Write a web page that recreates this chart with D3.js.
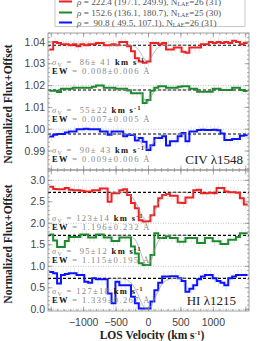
<!DOCTYPE html>
<html>
<head>
<meta charset="utf-8">
<script src="https://cdn.jsdelivr.net/npm/d3@7"></script>
<style>
  body { margin: 0; background: #fff; }
  text { white-space: pre; }
</style>
</head>
<body>
<svg id="chart" width="264" height="341" xml:space="preserve"></svg>
<script>
// velocity bins (centres, km/s)
var vel = d3.range(-1500, 1501, 60);
var binWidth = 60;

// CIV 1548 stack, flux + offset
var civRed = [1.0365,1.0400,1.0395,1.0390,1.0390,1.0385,1.0390,1.0380,1.0390,1.0385,1.0390,1.0390,1.0395,1.0395,1.0385,1.0385,1.0390,1.0385,1.0400,1.0400,1.0380,1.0357,1.0325,1.0310,1.0305,1.0310,1.0395,1.0395,1.0390,1.0395,1.0365,1.0365,1.0375,1.0375,1.0355,1.0350,1.0375,1.0375,1.0375,1.0390,1.0390,1.0400,1.0395,1.0400,1.0395,1.0400,1.0395,1.0405,1.0400,1.0390,1.0395];
var civGreen = [1.0176,1.0176,1.0170,1.0185,1.0185,1.0185,1.0190,1.0190,1.0190,1.0190,1.0190,1.0195,1.0200,1.0200,1.0190,1.0190,1.0190,1.0185,1.0185,1.0185,1.0177,1.0165,1.0165,1.0165,1.0120,1.0134,1.0176,1.0190,1.0197,1.0197,1.0190,1.0190,1.0190,1.0195,1.0197,1.0197,1.0185,1.0185,1.0172,1.0172,1.0172,1.0172,1.0185,1.0185,1.0180,1.0180,1.0180,1.0190,1.0190,1.0180,1.0175];
var civBlue = [0.9966,0.9975,0.9978,0.9978,0.9985,0.9990,0.9990,1.0000,1.0000,1.0002,1.0000,1.0000,1.0000,0.9990,0.9990,0.9975,0.9990,0.9990,0.9990,0.9968,0.9975,0.9974,0.9948,0.9960,0.9942,0.9905,0.9927,0.9960,0.9960,0.9968,0.9925,0.9945,0.9945,0.9968,0.9983,0.9945,0.9990,0.9990,0.9996,0.9998,0.9996,0.9996,0.9998,0.9995,0.9980,0.9950,0.9950,0.9955,0.9955,0.9970,0.9972];

// HI 1215 stack, flux + offset
var hiRed = [2.85,2.80,2.79,2.79,2.82,2.78,2.77,2.77,2.76,2.74,2.74,2.77,2.77,2.81,2.81,2.50,2.70,2.70,2.77,2.79,2.66,2.47,2.35,2.07,2.04,2.05,2.19,2.39,2.58,2.66,2.68,2.64,2.64,2.48,2.47,2.60,2.60,2.77,2.78,2.70,2.70,2.71,2.70,2.82,2.82,2.74,2.72,2.72,2.71,2.58,2.44];
var hiGreen = [1.74,1.60,1.45,1.45,1.59,1.68,1.68,1.68,1.74,1.74,1.67,1.67,1.74,1.74,1.67,1.67,1.59,1.59,1.67,1.67,1.67,1.46,1.30,1.07,1.03,1.03,1.26,1.77,1.66,1.66,1.70,1.66,1.66,1.57,1.57,1.66,1.66,1.66,1.54,1.54,1.66,1.66,1.58,1.58,1.52,1.52,1.62,1.62,1.68,1.77,1.77];
var hiBlue = [0.87,0.84,0.60,0.80,0.82,0.84,0.84,0.80,0.80,0.64,0.62,0.72,0.70,0.70,0.70,0.37,0.14,0.64,0.56,0.56,0.56,0.29,0.14,0.02,0.02,0.02,0.18,0.44,0.62,0.76,0.76,0.77,0.77,0.72,0.66,0.41,0.48,0.56,0.70,0.76,0.80,0.80,0.72,0.66,0.62,0.56,0.72,0.76,0.80,0.80,0.80];

var civErr = [0.0022, 0.0020, 0.0022];
var hiErr = [0.12, 0.11, 0.13];

// continuum levels (dashed) and offset zero lines (dotted)
var civCont = [1.0385, 1.0180, 0.9978];
var hiCont = [2.72, 1.72, 0.72];
var civRef = [1.04, 1.02, 1.00];
var hiRef = [3, 2, 1, 0];

// gaussian fit parameters
var civSigma = [86, 55, 90];
var civDepth = [0.0072, 0.0058, 0.0068];
var hiSigma = [123, 95, 127];
var hiDepth = [0.66, 0.70, 0.72];
var fitCentre = -20;

// labels
var civSigmaTxt = [" 86\u00b1 41", " 55\u00b122", " 90\u00b1 43"];
var civEWTxt = ["0.008\u00b10.006", "0.007\u00b10.005", "0.009\u00b10.006"];
var hiSigmaTxt = ["123\u00b114", " 95\u00b112", "127\u00b118"];
var hiEWTxt = ["1.196\u00b10.232", "1.115\u00b10.195", "1.339\u00b10.267"];
var legendRho = ["222.4 (197.1, 249.9)", "152.6 (136.1, 180.7)", " 90.8 ( 49.5, 107.1)"];
var legendN = ["26 (31)", "25 (30)", "26 (31)"];
var colors = ["#ee2222", "#1e8a2e", "#0a14ff"];

var serif = "Liberation Serif, Times New Roman, serif";
var sans = "Liberation Sans, Arial, sans-serif";

var svg = d3.select("#chart");
var left = 48, right = 249;

var x = d3.scaleLinear().domain([-1550, 1550]).range([left, right]);

var panels = [
  { top: 33, bottom: 170, domain: [0.9813, 1.0441], series: [civRed, civGreen, civBlue],
    err: civErr, cont: civCont, ref: civRef, sig: civSigma, depth: civDepth,
    major: d3.range(0.99, 1.0405, 0.01), minor: d3.range(0.982, 1.0441, 0.002), fmt: d3.format(".2f"),
    sigTxt: civSigmaTxt, ewTxt: civEWTxt, txtY: [65, 113, 153], ion: "CIV \u03bb1548", ionX: 243, ionY: 164,
    titleY: 104 },
  { top: 170, bottom: 311, domain: [-0.04, 3.24], series: [hiRed, hiGreen, hiBlue],
    err: hiErr, cont: hiCont, ref: hiRef, sig: hiSigma, depth: hiDepth,
    major: d3.range(0, 3.01, 0.5), minor: d3.range(0, 3.21, 0.1), fmt: d3.format(".1f"),
    sigTxt: hiSigmaTxt, ewTxt: hiEWTxt, txtY: [221, 254, 294], ion: "HI \u03bb1215", ionX: 236, ionY: 305,
    titleY: 244 }
];

panels.forEach(function(p, pi) {
  var y = d3.scaleLinear().domain(p.domain).range([p.bottom, p.top]);
  var g = svg.append("g");
  var clipId = "clip" + pi;
  svg.append("clipPath").attr("id", clipId).append("rect")
    .attr("x", left).attr("y", p.top).attr("width", right - left).attr("height", p.bottom - p.top);
  var inner = g.append("g").attr("clip-path", "url(#" + clipId + ")");

  // dotted offset reference lines
  inner.selectAll(".ref").data(p.ref).enter().append("line")
    .attr("x1", left).attr("x2", right)
    .attr("y1", function(d) { return y(d); }).attr("y2", function(d) { return y(d); })
    .attr("stroke", "#aaa").attr("stroke-width", 0.7).attr("stroke-dasharray", "1,1.5");

  // error bars
  p.series.forEach(function(s, si) {
    inner.selectAll(".err" + si).data(s).enter().append("line")
      .attr("x1", function(d, i) { return x(vel[i]); })
      .attr("x2", function(d, i) { return x(vel[i]); })
      .attr("y1", function(d) { return y(d - p.err[si]); })
      .attr("y2", function(d) { return y(d + p.err[si]); })
      .attr("stroke", "#e2e2e2").attr("stroke-width", 0.8);
  });

  // continuum dashed
  inner.selectAll(".cont").data(p.cont).enter().append("line")
    .attr("x1", left).attr("x2", right)
    .attr("y1", function(d) { return y(d); }).attr("y2", function(d) { return y(d); })
    .attr("stroke", "#000").attr("stroke-width", 1.1).attr("stroke-dasharray", "3,2");

  // spectra as histograms
  var step = d3.line().curve(d3.curveStepAfter)
    .x(function(d) { return x(d[0]); }).y(function(d) { return y(d[1]); });
  p.series.forEach(function(s, si) {
    var pts = s.map(function(d, i) { return [vel[i] - binWidth / 2, d]; });
    pts.push([vel[vel.length - 1] + binWidth / 2, s[s.length - 1]]);
    inner.append("path").attr("d", step(pts))
      .attr("fill", "none").attr("stroke", colors[si]).attr("stroke-width", 2);
  });

  // gaussian fits
  var fit = d3.line().x(function(d) { return x(d[0]); }).y(function(d) { return y(d[1]); });
  p.cont.forEach(function(c, si) {
    var vv = d3.range(-600, 601, 10);
    var pts = vv.map(function(v) {
      var dv = v - fitCentre;
      return [v, c - p.depth[si] * Math.exp(-dv * dv / (2 * p.sig[si] * p.sig[si]))];
    });
    inner.append("path").attr("d", fit(pts))
      .attr("fill", "none").attr("stroke", "#999").attr("stroke-width", 0.7);
  });

  // frame
  g.append("rect").attr("x", left).attr("y", p.top)
    .attr("width", right - left).attr("height", p.bottom - p.top)
    .attr("fill", "none").attr("stroke", "#888").attr("stroke-width", 0.8);

  // y ticks both sides
  var tickG = g.append("g").attr("stroke", "#888").attr("stroke-width", 0.7);
  p.minor.forEach(function(t) {
    tickG.append("line").attr("x1", left).attr("x2", left + 2).attr("y1", y(t)).attr("y2", y(t));
    tickG.append("line").attr("x1", right).attr("x2", right - 2).attr("y1", y(t)).attr("y2", y(t));
  });
  p.major.forEach(function(t) {
    tickG.append("line").attr("x1", left).attr("x2", left + 4.5).attr("y1", y(t)).attr("y2", y(t));
    tickG.append("line").attr("x1", right).attr("x2", right - 4.5).attr("y1", y(t)).attr("y2", y(t));
  });
  g.selectAll(".ylab").data(p.major).enter().append("text")
    .attr("x", left - 3).attr("y", function(d) { return y(d) + 3.6; })
    .attr("text-anchor", "end").attr("font-family", sans)
    .attr("font-size", 10.5).attr("fill", "#444").text(function(d) { return p.fmt(d); });

  // x ticks top and bottom
  var xminor = d3.range(-1500, 1501, 100), xmajor = d3.range(-1500, 1501, 500);
  xminor.forEach(function(t) {
    tickG.append("line").attr("x1", x(t)).attr("x2", x(t)).attr("y1", p.bottom).attr("y2", p.bottom - 2);
    tickG.append("line").attr("x1", x(t)).attr("x2", x(t)).attr("y1", p.top).attr("y2", p.top + 2);
  });
  xmajor.forEach(function(t) {
    tickG.append("line").attr("x1", x(t)).attr("x2", x(t)).attr("y1", p.bottom).attr("y2", p.bottom - 4.5);
    tickG.append("line").attr("x1", x(t)).attr("x2", x(t)).attr("y1", p.top).attr("y2", p.top + 4.5);
  });

  // y title
  g.append("text")
    .attr("transform", "translate(12," + p.titleY + ") rotate(-90)")
    .attr("text-anchor", "middle").attr("font-family", serif)
    .attr("font-weight", "bold").attr("font-size", 11.5).attr("fill", "#222")
    .text("Normalized Flux+Offset");

  // fit annotations
  p.sigTxt.forEach(function(s, si) {
    var t1 = g.append("text").attr("x", 52).attr("y", p.txtY[si])
      .attr("font-family", serif).attr("font-size", 8.5).attr("letter-spacing", 1.35).attr("fill", "#888");
    t1.append("tspan").attr("font-style", "italic").text("\u03c3");
    t1.append("tspan").attr("font-size", 5.8).attr("dy", 1.6).text("V");
    t1.append("tspan").attr("dy", -1.6).text(" = " + s + " ");
    t1.append("tspan").attr("font-weight", "bold").attr("fill", "#111").text("km s");
    t1.append("tspan").attr("font-size", 5.8).attr("dy", -3.3).attr("font-weight", "bold").attr("fill", "#111").text("-1");
    var t2 = g.append("text").attr("x", 52).attr("y", p.txtY[si] + 9)
      .attr("font-family", serif).attr("font-size", 8.5).attr("letter-spacing", 1.35).attr("fill", "#888");
    t2.append("tspan").attr("font-weight", "bold").attr("fill", "#111").text("EW");
    t2.append("tspan").text(" = " + p.ewTxt[si] + " \u00c5");
  });

  g.append("text").attr("x", p.ionX).attr("y", p.ionY).attr("text-anchor", "end")
    .attr("font-family", serif).attr("font-size", 13)
    .attr("fill", "#222").text(p.ion);
});

// x tick labels and title
var xlab = [-1000, -500, 0, 500, 1000];
svg.selectAll(".xlab").data(xlab).enter().append("text")
  .attr("x", function(d) { return x(d); }).attr("y", 326)
  .attr("text-anchor", "middle").attr("font-family", sans)
  .attr("font-size", 10.5).attr("fill", "#444")
  .text(function(d) { return d < 0 ? "\u2212" + Math.abs(d) : d; });

var xt = svg.append("text").attr("x", 152).attr("y", 339).attr("text-anchor", "middle")
  .attr("font-family", serif).attr("font-weight", "bold")
  .attr("font-size", 11.5).attr("fill", "#222");
xt.append("tspan").text("LOS Velocity (km s");
xt.append("tspan").attr("font-size", 7).attr("dy", -4).text("-1");
xt.append("tspan").attr("dy", 4).text(")");

// legend
var leg = svg.append("g");
leg.append("rect").attr("x", 55).attr("y", -5).attr("width", 190).attr("height", 31.5)
  .attr("fill", "#fff").attr("stroke", "#bbb").attr("stroke-width", 0.8);
var legY = [1.5, 12.5, 22.5];
legendRho.forEach(function(r, i) {
  leg.append("line").attr("x1", 59).attr("x2", 72).attr("y1", legY[i]).attr("y2", legY[i])
    .attr("stroke", colors[i]).attr("stroke-width", 2);
  var t = leg.append("text").attr("x", 77).attr("y", legY[i] + 3)
    .attr("font-family", serif).attr("font-size", 9.2).attr("fill", "#555");
  t.append("tspan").attr("font-style", "italic").text("\u03c1");
  t.append("tspan").text(" = " + r + ", N");
  t.append("tspan").attr("font-size", 6).attr("dy", 1.8).text("LAE");
  t.append("tspan").attr("dy", -1.8).text("=" + legendN[i]);
});
</script>
</body>
</html>
